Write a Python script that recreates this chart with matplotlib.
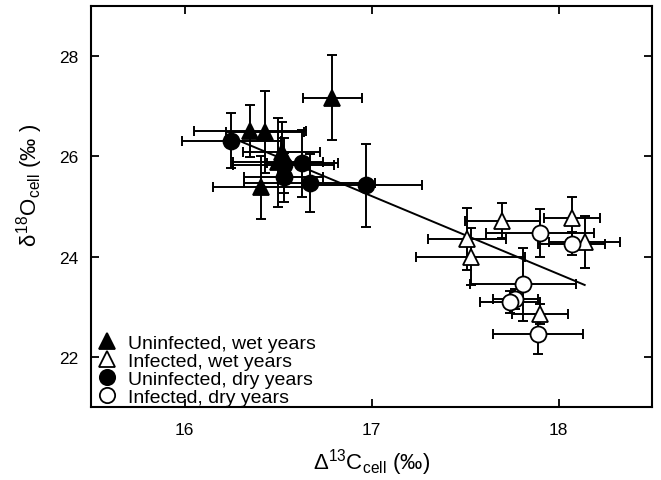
import numpy as np
import matplotlib
matplotlib.use("Agg")
import matplotlib.pyplot as plt

plt.rcParams['font.family'] = ['Liberation Sans', 'DejaVu Sans']
plt.rcParams['mathtext.fontset'] = 'custom'
plt.rcParams['mathtext.rm'] = 'Liberation Sans'
plt.rcParams['mathtext.it'] = 'Liberation Sans'

# Uninfected, wet years (filled triangles)
uw_x = [16.35, 16.43, 16.79, 16.52, 16.50, 16.41]
uw_y = [26.51, 26.49, 27.17, 26.08, 25.88, 25.38]
uw_xe = [0.30, 0.21, 0.157, 0.206, 0.24, 0.26]
uw_ye = [0.52, 0.82, 0.85, 0.60, 0.88, 0.62]

# Infected, wet years (open triangles)
iw_x = [17.70, 18.07, 18.14, 17.51, 17.53, 17.90]
iw_y = [24.72, 24.78, 24.29, 24.36, 24.00, 22.85]
iw_xe = [0.20, 0.15, 0.19, 0.21, 0.29, 0.15]
iw_ye = [0.34, 0.41, 0.52, 0.62, 0.57, 0.20]

# Uninfected, dry years (filled circles)
ud_x = [16.25, 16.53, 16.53, 16.63, 16.67, 16.97]
ud_y = [26.31, 25.82, 25.58, 25.86, 25.47, 25.42]
ud_xe = [0.264, 0.27, 0.21, 0.19, 0.35, 0.30]
ud_ye = [0.55, 0.55, 0.49, 0.67, 0.58, 0.83]

# Infected, dry years (open circles)
id_x = [17.90, 18.07, 17.81, 17.77, 17.74, 17.89]
id_y = [24.48, 24.26, 23.45, 23.15, 23.09, 22.45]
id_xe = [0.29, 0.18, 0.285, 0.12, 0.16, 0.24]
id_ye = [0.48, 0.23, 0.73, 0.20, 0.22, 0.40]

labels = ["Uninfected, wet years", "Infected, wet years",
          "Uninfected, dry years", "Infected, dry years"]

fig = plt.figure(figsize=(6.61, 4.81), dpi=100)
ax = fig.add_axes([91/661, 1 - 408/481, (652-91)/661, (408-7)/481])

series = [
    (uw_x, uw_y, uw_xe, uw_ye, '^', 'black', 12),
    (iw_x, iw_y, iw_xe, iw_ye, '^', 'white', 12),
    (ud_x, ud_y, ud_xe, ud_ye, 'o', 'black', 11.5),
    (id_x, id_y, id_xe, id_ye, 'o', 'white', 11.5),
]

# error bars first
for x, y, xe, ye, m, fc, ms in series:
    ax.errorbar(x, y, xerr=xe, yerr=ye, fmt='none', ecolor='black',
                elinewidth=1.4, capsize=3.6, capthick=1.4, zorder=2)

# regression line over all data
allx = np.concatenate([uw_x, iw_x, ud_x, id_x])
ally = np.concatenate([uw_y, iw_y, ud_y, id_y])
b, a = np.polyfit(allx, ally, 1)
xx = np.array([allx.min(), allx.max()])
ax.plot(xx, a + b * xx, color='black', lw=1.4, zorder=2.5)

handles = []
for (x, y, xe, ye, m, fc, ms), lab in zip(series, labels):
    h, = ax.plot(x, y, linestyle='none', marker=m, markersize=ms,
                 markerfacecolor=fc, markeredgecolor='black',
                 markeredgewidth=1.3, zorder=3, label=lab)
    handles.append(h)

ax.set_xlim(15.5, 18.5)
ax.set_ylim(21, 29)
ax.set_xticks([16, 17, 18])
ax.set_yticks([22, 24, 26, 28])
ax.tick_params(direction='in', length=6, width=1.3, top=True, right=True,
               labelsize=12.5)
ax.tick_params(axis='x', pad=11)
ax.tick_params(axis='y', pad=9)
for s in ax.spines.values():
    s.set_linewidth(1.5)

ax.set_xlabel(r'$\Delta^{13}$C$_{\rm cell}$ (‰)', fontsize=16, labelpad=6)
ax.set_ylabel(r'$\delta^{18}$O$_{\rm cell}$ (‰ )', fontsize=16)
ax.yaxis.set_label_coords(-0.082, 0.555)

leg = ax.legend(handles=handles, loc='lower left', frameon=False,
                fontsize=14, handlelength=0.8, handletextpad=0.7,
                labelspacing=0.02, borderaxespad=0.0,
                bbox_to_anchor=(0.0, -0.016))
for h in leg.legend_handles:
    h.set_markersize(11)

fig.savefig('out.png', dpi=100)
